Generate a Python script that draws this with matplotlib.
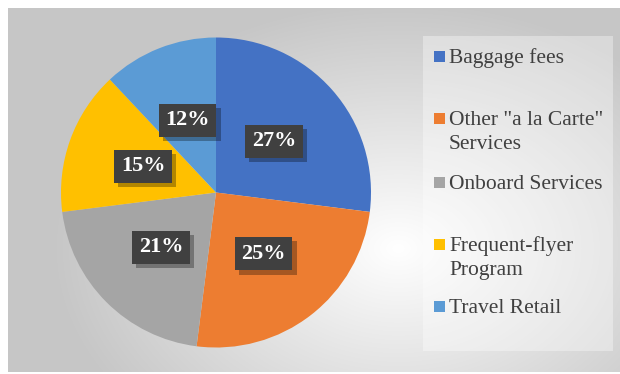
import numpy as np
import matplotlib
matplotlib.use('Agg')
from matplotlib import pyplot as plt
from matplotlib.patches import Rectangle
import matplotlib.patheffects as pe

W, H = 620, 374

categories = ['Baggage fees', 'Other "a la Carte"\nServices', 'Onboard Services',
              'Frequent-flyer\nProgram', 'Travel Retail']
shares = [27, 25, 21, 15, 12]
colors = ['#4472C4', '#ED7D31', '#A5A5A5', '#FFC000', '#5B9BD5']


def fx(px):
    return px / W


def fy(py):
    # pixel rows counted from the top
    return 1 - py / H


fig = plt.figure(figsize=(W / 100, H / 100), dpi=100)
fig.patch.set_facecolor('white')

# gradient background of the chart area
bg = fig.add_axes([fx(8), fy(372), fx(612), 364 / H])
bg.set_axis_off()
yy, xx = np.mgrid[0:364, 0:612]
d = np.sqrt(((xx - 390) / 420) ** 2 + ((yy - 240) / 300) ** 2)
shade = np.clip(1.0 - 0.27 * d, 0.78, 1.0)
bg.imshow(np.dstack([shade, shade, shade]), aspect='auto', interpolation='bilinear')

# legend panel
fig.patches.append(Rectangle((fx(423), fy(351)), fx(190), 315 / H, transform=fig.transFigure,
                             facecolor='white', alpha=0.35, edgecolor='none', zorder=1))

# pie
ax = fig.add_axes([fx(216 - 155), fy(192.5 + 155), fx(310), 310 / H])
ax.set_facecolor('none')
wedges, texts, autotexts = ax.pie(shares, colors=colors, startangle=90, counterclock=False,
                                  autopct='%d%%', pctdistance=0.5,
                                  wedgeprops=dict(linewidth=0))
ax.set_xlim(-1, 1)
ax.set_ylim(-1, 1)

for t in autotexts:
    t.set_fontfamily('Liberation Serif')
    t.set_fontweight('bold')
    t.set_fontsize(16)
    t.set_color('white')
    t.set_bbox(dict(boxstyle='square,pad=0.3', facecolor='#404040', edgecolor='none'))
    t.get_bbox_patch().set_path_effects([
        pe.SimplePatchShadow(offset=(3, -3), shadow_rgbFace='black', alpha=0.3),
        pe.Normal()])

# legend entries
entry_y = [56, 118, 182, 244, 306]
for name, col, y in zip(categories, colors, entry_y):
    fig.patches.append(Rectangle((fx(434), fy(y + 5.5)), fx(11), 11 / H, transform=fig.transFigure,
                                 facecolor=col, edgecolor='none', zorder=3))
    for i, line in enumerate(name.split('\n')):
        fig.text(fx(449), fy(y + 7 + 24 * i), line, ha='left', va='baseline', fontsize=15.5,
                 fontfamily='Liberation Serif', color='#404040')

plt.savefig('out.png', dpi=100)
